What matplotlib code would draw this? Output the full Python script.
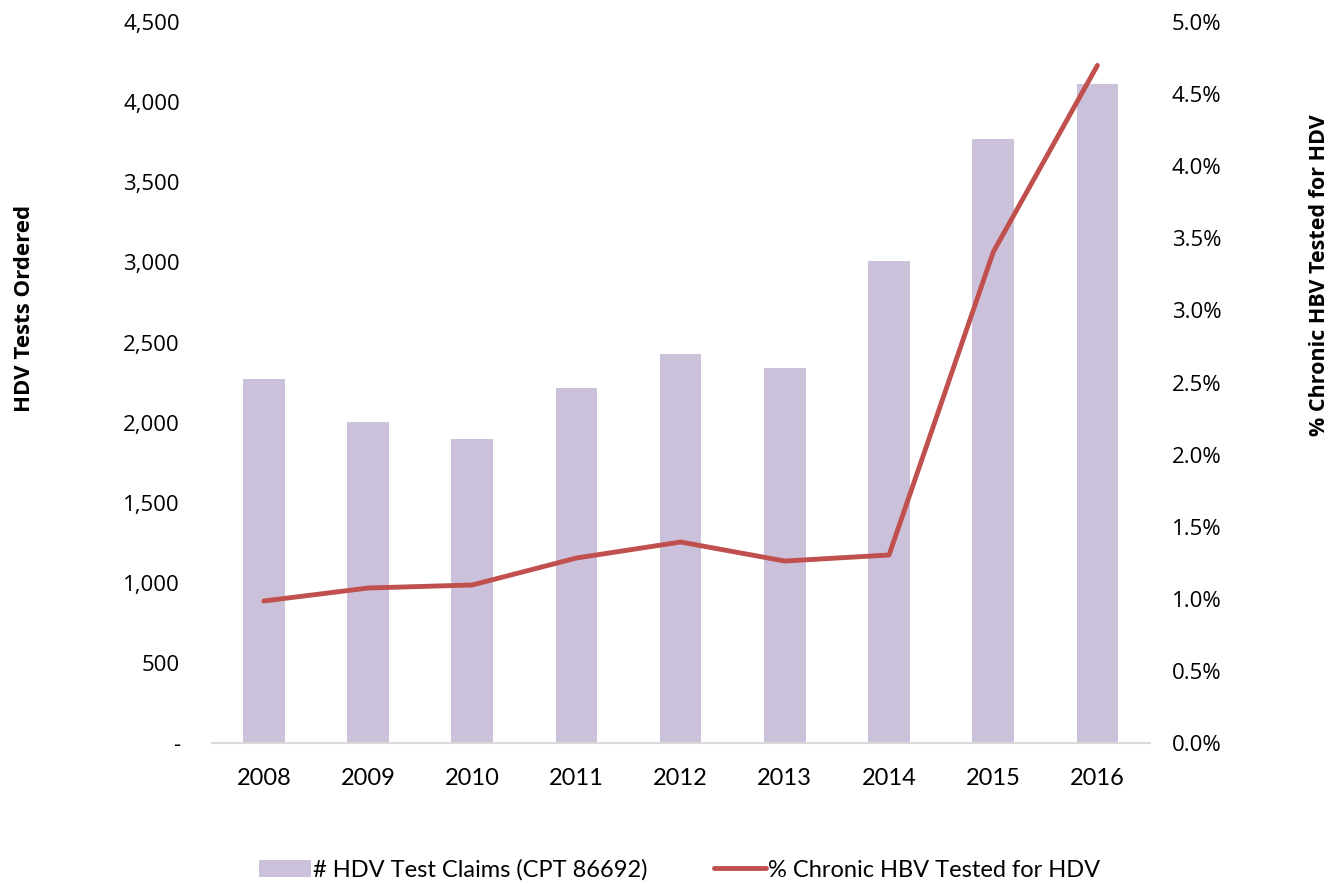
import matplotlib
matplotlib.use("Agg")
import matplotlib.pyplot as plt
from matplotlib.ticker import FuncFormatter, MultipleLocator

plt.rcParams['font.family'] = ['Lato', 'DejaVu Sans']

years = ['2008', '2009', '2010', '2011', '2012', '2013', '2014', '2015', '2016']
test_claims = [2272, 2003, 1897, 2215, 2428, 2340, 3008, 3770, 4113]
pct_tested = [0.985, 1.075, 1.096, 1.283, 1.394, 1.262, 1.304, 3.405, 4.70]

bar_color = '#CCC1DA'
line_color = '#C0504D'

fig = plt.figure(figsize=(13.32, 8.84), dpi=100)
ax = fig.add_axes([0.159, 0.1595, 0.704, 0.8155])
ax2 = ax.twinx()

x = list(range(len(years)))
b = ax.bar(x, test_claims, width=0.4, color=bar_color, label='# HDV Test Claims (CPT 86692)', zorder=2)
l, = ax2.plot(x, pct_tested, color=line_color, lw=3.5, label='% Chronic HBV Tested for HDV',
              solid_capstyle='round', zorder=3)

ax.set_xlim(-0.5, 8.5)
ax.set_ylim(0, 4500)
ax2.set_ylim(0, 5.0)
ax.yaxis.set_major_locator(MultipleLocator(500))
ax2.yaxis.set_major_locator(MultipleLocator(0.5))
ax.yaxis.set_major_formatter(FuncFormatter(lambda v, p: '-' if v == 0 else f'{int(v):,}'))
ax2.yaxis.set_major_formatter(FuncFormatter(lambda v, p: f'{v:.1f}%'))
ax.set_xticks(x)
ax.set_xticklabels(years)

for a in (ax, ax2):
    for s in a.spines.values():
        s.set_visible(False)
    a.tick_params(length=0, colors='black')
ax.spines['bottom'].set_visible(True)
ax.spines['bottom'].set_color('#D9D9D9')
ax.spines['bottom'].set_linewidth(1.5)
ax.tick_params(axis='x', pad=18, labelsize=17)
ax.tick_params(axis='y', pad=23, labelsize=16)
ax2.tick_params(axis='y', pad=16, labelsize=16)
for t in ax.get_yticklabels() + ax2.get_yticklabels():
    t.set_family(['Open Sans', 'DejaVu Sans'])

ax.set_ylabel('HDV Tests Ordered', fontsize=16, fontweight='bold', family=['Open Sans', 'DejaVu Sans'])
ax.yaxis.set_label_coords(-0.188, 0.603)
ax2.set_ylabel('% Chronic HBV Tested for HDV', fontsize=15.5, fontweight='bold', rotation=90,
               family=['Open Sans', 'DejaVu Sans'])
ax2.yaxis.set_label_coords(1.1706, 0.649)

fig.legend([b, l], ['# HDV Test Claims (CPT 86692)', '% Chronic HBV Tested for HDV'],
           loc='center', bbox_to_anchor=(0.51, 0.016), ncol=2, frameon=False, fontsize=17,
           handlelength=2.2, handletextpad=0.1, columnspacing=2.8)

fig.savefig('out.png', dpi=100)
